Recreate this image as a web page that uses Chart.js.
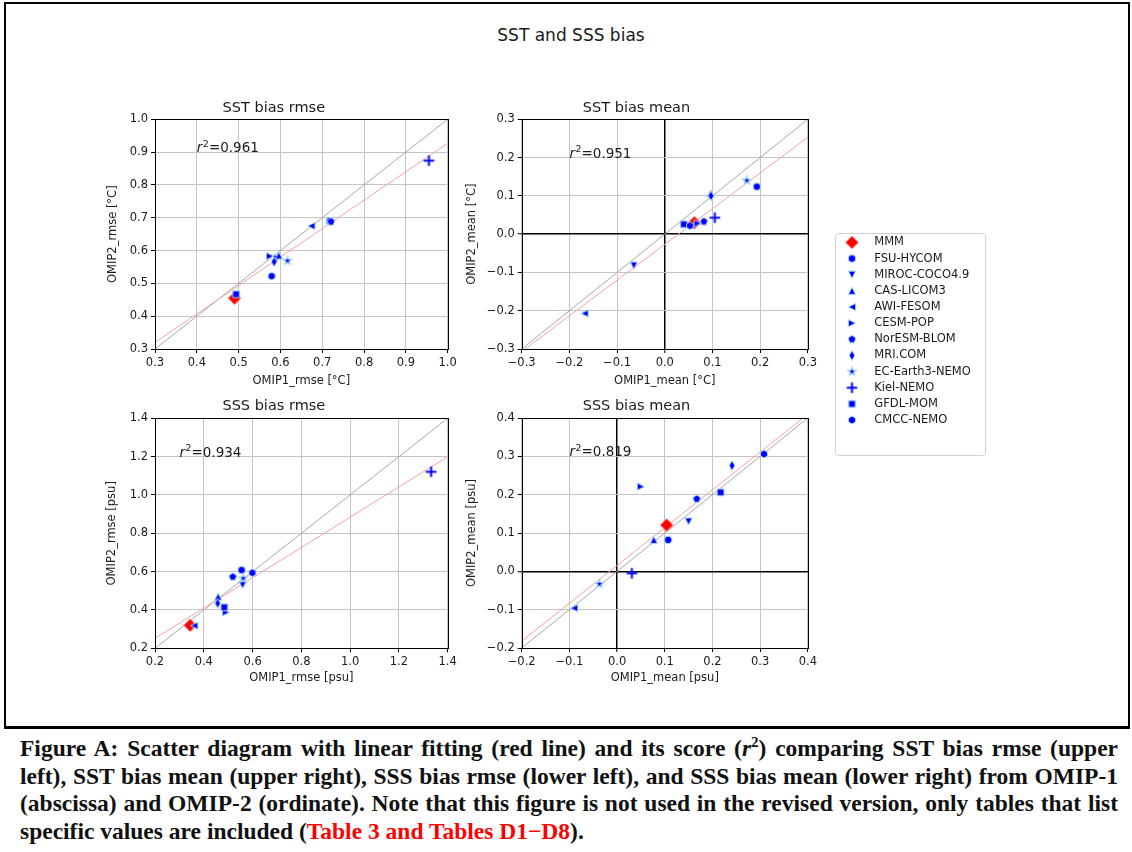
<!DOCTYPE html>
<html>
<head>
<meta charset="utf-8">
<script src="https://cdn.jsdelivr.net/npm/chart.js@4.4.1/dist/chart.umd.min.js"></script>
<style>
  body { margin: 0; background: #fff; width: 1132px; height: 852px; position: relative; overflow: hidden; font-family: "DejaVu Sans", sans-serif; }
  #frame { position: absolute; left: 4px; top: 2px; width: 1126px; height: 727px; box-sizing: border-box; border: 2px solid #000; border-bottom-width: 3px; }
  #suptitle { position: absolute; left: 0; width: 1142px; top: 25px; text-align: center; font-size: 17px; color: #1a1a1a; }
  canvas { position: absolute; }
  #caption { position: absolute; left: 20px; top: 735px; width: 1098px; font-family: "Liberation Serif", "Times New Roman", serif; font-weight: bold; font-size: 23.5px; line-height: 27.5px; color: #111; }
  #caption div { text-align: justify; text-align-last: justify; white-space: nowrap; }
  #caption div.last { text-align-last: left; }
  #caption sup { font-size: 15px; line-height: 0; }
  #caption .ref { color: #f00; }
</style>
</head>
<body>
<div id="frame"></div>
<div id="suptitle">SST and SSS bias</div>
<canvas id="sstRmse" width="360" height="300" style="left:100px;top:95px"></canvas>
<canvas id="sstMean" width="360" height="300" style="left:460px;top:95px"></canvas>
<canvas id="sssRmse" width="360" height="300" style="left:100px;top:395px"></canvas>
<canvas id="sssMean" width="360" height="300" style="left:460px;top:395px"></canvas>
<canvas id="legendBox" width="170" height="228" style="left:824px;top:232px"></canvas>
<div id="caption">
  <div>Figure A: Scatter diagram with linear fitting (red line) and its score (<i>r</i><sup>2</sup>) comparing SST bias rmse (upper</div>
  <div>left), SST bias mean (upper right), SSS bias rmse (lower left), and SSS bias mean (lower right) from OMIP-1</div>
  <div>(abscissa) and OMIP-2 (ordinate). Note that this figure is not used in the revised version, only tables that list</div>
  <div class="last">specific values are included (<span class="ref">Table 3 and Tables D1&minus;D8</span>).</div>
</div>
<script>
const models = ['MMM', 'FSU-HYCOM', 'MIROC-COCO4.9', 'CAS-LICOM3', 'AWI-FESOM', 'CESM-POP',
  'NorESM-BLOM', 'MRI.COM', 'EC-Earth3-NEMO', 'Kiel-NEMO', 'GFDL-MOM', 'CMCC-NEMO'];

// SST bias rmse [°C]
const sstRmseOmip1 = [0.490, 0.718, 0.590, 0.596, 0.674, 0.575, 0.721, 0.585, 0.617, 0.955, 0.494, 0.579];
const sstRmseOmip2 = [0.455, 0.690, 0.575, 0.585, 0.675, 0.583, 0.688, 0.566, 0.569, 0.874, 0.467, 0.522];
// SST bias mean [°C]
const sstMeanOmip1 = [0.062, 0.193, -0.065, 0.096, -0.168, 0.069, 0.082, 0.097, 0.172, 0.105, 0.040, 0.053];
const sstMeanOmip2 = [0.030, 0.124, -0.082, 0.106, -0.207, 0.028, 0.033, 0.100, 0.140, 0.043, 0.026, 0.022];
// SSS bias rmse [psu]
const sssRmseOmip1 = [0.344, 0.555, 0.559, 0.459, 0.361, 0.491, 0.519, 0.457, 0.562, 1.332, 0.484, 0.599];
const sssRmseOmip2 = [0.320, 0.608, 0.530, 0.469, 0.318, 0.388, 0.573, 0.435, 0.565, 1.121, 0.414, 0.594];
// SSS bias mean [psu]
const sssMeanOmip1 = [0.104, 0.107, 0.150, 0.077, -0.090, 0.050, 0.167, 0.241, -0.037, 0.031, 0.217, 0.308];
const sssMeanOmip2 = [0.121, 0.082, 0.130, 0.082, -0.096, 0.221, 0.189, 0.276, -0.033, -0.005, 0.206, 0.306];

// linear fit lines (end points) and 1:1 lines
const sstRmseFit = [[0.3, 0.320], [1.0, 0.927]];
const sstMeanFit = [[-0.293, -0.3], [0.3, 0.253]];
const sssRmseFit = [[0.2, 0.252], [1.4, 1.200]];
const sssMeanFit = [[-0.2, -0.182], [0.39, 0.4]];
const r2Labels = ['0.961', '0.951', '0.934', '0.819'];

const sstRmseTicks = [0.3, 0.4, 0.5, 0.6, 0.7, 0.8, 0.9, 1.0];
const sstMeanTicks = [-0.3, -0.2, -0.1, 0.0, 0.1, 0.2, 0.3];
const sssRmseTicks = [0.2, 0.4, 0.6, 0.8, 1.0, 1.2, 1.4];
const sssMeanTicks = [-0.2, -0.1, 0.0, 0.1, 0.2, 0.3, 0.4];

const BLUE = '#0000ff', EDGE = '#a3d5f2', TXT = '#1a1a1a';

function marker(shape, r, fill, edge, lw) {
  const s = Math.ceil(2 * r + 2 * lw + 2);
  const c = document.createElement('canvas');
  c.width = s; c.height = s;
  const g = c.getContext('2d');
  g.translate(s / 2, s / 2);
  g.beginPath();
  const poly = pts => { pts.forEach((p, i) => i ? g.lineTo(p[0], p[1]) : g.moveTo(p[0], p[1])); g.closePath(); };
  const ngon = (n, rr, rot) => {
    const pts = [];
    for (let i = 0; i < n; i++) { const a = rot + i * 2 * Math.PI / n; pts.push([rr * Math.sin(a), -rr * Math.cos(a)]); }
    poly(pts);
  };
  if (shape === 'plus') {
    g.strokeStyle = fill; g.lineWidth = lw;
    g.moveTo(-r, 0); g.lineTo(r, 0); g.moveTo(0, -r); g.lineTo(0, r); g.stroke();
    return c;
  }
  if (shape === 'circle') g.arc(0, 0, r, 0, 2 * Math.PI);
  if (shape === 'diamond') poly([[0, -r], [r, 0], [0, r], [-r, 0]]);
  if (shape === 'thin') poly([[0, -r], [0.6 * r, 0], [0, r], [-0.6 * r, 0]]);
  if (shape === 'square') poly([[-r, -r], [r, -r], [r, r], [-r, r]]);
  if (shape === 'up') poly([[0, -r], [r, r], [-r, r]]);
  if (shape === 'down') poly([[0, r], [r, -r], [-r, -r]]);
  if (shape === 'left') poly([[-r, 0], [r, -r], [r, r]]);
  if (shape === 'right') poly([[r, 0], [-r, -r], [-r, r]]);
  if (shape === 'pent') ngon(5, r, 0);
  if (shape === 'hex') ngon(6, r, 0);
  if (shape === 'star') {
    const pts = [];
    for (let i = 0; i < 10; i++) { const a = i * Math.PI / 5, rr = i % 2 ? r * 0.4 : r; pts.push([rr * Math.sin(a), -rr * Math.cos(a)]); }
    poly(pts);
  }
  g.fillStyle = fill; g.fill();
  g.strokeStyle = edge; g.lineWidth = lw; g.stroke();
  return c;
}

const markers = [
  marker('diamond', 6.2, '#ff0000', '#ff5050', 1),
  marker('circle', 3.7, BLUE, EDGE, 1),
  marker('down', 3.6, BLUE, EDGE, 1),
  marker('up', 3.6, BLUE, EDGE, 1),
  marker('left', 3.6, BLUE, EDGE, 1),
  marker('right', 3.6, BLUE, EDGE, 1),
  marker('pent', 4.0, BLUE, EDGE, 1),
  marker('thin', 4.8, BLUE, EDGE, 1),
  marker('star', 4.6, BLUE, EDGE, 1.2),
  marker('plus', 5.3, BLUE, EDGE, 2),
  marker('square', 3.4, BLUE, EDGE, 1),
  marker('hex', 3.9, BLUE, EDGE, 1)
];

const fmt = v => (Math.abs(v) < 1e-9 ? 0 : v).toFixed(1).replace('-', '\u2212');

const spines = {
  id: 'spines',
  afterDraw(chart) {
    const {ctx, chartArea: a} = chart;
    ctx.save();
    ctx.strokeStyle = '#000';
    ctx.lineWidth = 1;
    ctx.strokeRect(Math.round(a.left) + 0.5, Math.round(a.top) + 0.5, Math.round(a.right - a.left), Math.round(a.bottom - a.top));
    ctx.restore();
  }
};

const r2Note = {
  id: 'r2Note',
  afterDatasetsDraw(chart, args, opts) {
    const {ctx, scales: {x, y}} = chart;
    const px = x.getPixelForValue(opts.x), py = y.getPixelForValue(opts.y);
    ctx.save();
    ctx.fillStyle = TXT;
    ctx.textBaseline = 'alphabetic';
    ctx.font = 'italic 13.5px "DejaVu Sans"';
    ctx.fillText('r', px, py);
    let w = ctx.measureText('r').width + 0.5;
    ctx.font = '9.5px "DejaVu Sans"';
    ctx.fillText('2', px + w, py - 5.5);
    w += ctx.measureText('2').width;
    ctx.font = '13.5px "DejaVu Sans"';
    ctx.fillText('=' + opts.text, px + w, py);
    ctx.restore();
  }
};

function makePanel(id, p) {
  const lh = 11.5 * 1.2;
  const pts = models.map((m, i) => ({
    label: m,
    data: [{x: p.xs[i], y: p.ys[i]}],
    pointStyle: markers[i],
    order: models.length - i
  }));
  const t0 = p.ticks[0], t1 = p.ticks[p.ticks.length - 1];
  const lines = [
    {label: 'fit', data: p.fit.map(q => ({x: q[0], y: q[1]})), showLine: true, pointRadius: 0,
      borderColor: '#f4a4a4', borderWidth: 1, order: 30},
    {label: '1:1', data: [{x: t0, y: t0}, {x: t1, y: t1}], showLine: true, pointRadius: 0,
      borderColor: '#a8a8a8', borderWidth: 1, order: 31}
  ];
  const grid = {
    color: c => (p.zero && c.tick && Math.abs(c.tick.value) < 1e-9) ? '#000' : '#c4c4c4',
    lineWidth: c => (p.zero && c.tick && Math.abs(c.tick.value) < 1e-9) ? 1.5 : 1,
    tickColor: '#000', tickWidth: 1, tickLength: 4, drawTicks: true
  };
  const tickOpts = {
    autoSkip: false, maxRotation: 0, padding: 3, color: TXT,
    font: {size: 11.5, family: 'DejaVu Sans'}, callback: v => fmt(v)
  };
  const L = p.box;
  new Chart(document.getElementById(id), {
    type: 'scatter',
    data: {datasets: pts.concat(lines)},
    options: {
      responsive: false, animation: false, events: [],
      layout: {padding: {left: 0, top: 0, bottom: 0, right: L.w - L.r}},
      scales: {
        x: {
          type: 'linear', min: t0, max: t1,
          afterBuildTicks: s => { s.ticks = p.ticks.map(v => ({value: v})); },
          afterFit: s => { s.height = L.h - L.b; },
          grid: grid, border: {display: false}, ticks: tickOpts,
          title: {display: true, text: p.xLabel, color: TXT, font: {size: 11.5, family: 'DejaVu Sans'},
            padding: {top: 0, bottom: L.h - L.xTitleY - lh / 2}}
        },
        y: {
          type: 'linear', min: t0, max: t1,
          afterBuildTicks: s => { s.ticks = p.ticks.map(v => ({value: v})); },
          afterFit: s => { s.width = L.l; },
          grid: grid, border: {display: false}, ticks: tickOpts,
          title: {display: true, text: p.yLabel, color: TXT, font: {size: 11.5, family: 'DejaVu Sans'},
            padding: {top: L.yTitleX - lh / 2, bottom: 0}}
        }
      },
      plugins: {
        legend: {display: false},
        tooltip: {enabled: false},
        title: {display: true, text: p.title, color: TXT, font: {size: 14.5, family: 'DejaVu Sans', weight: 'normal'},
          padding: {top: L.titleY - 8.7, bottom: L.t - (L.titleY - 8.7) - 17.4}},
        r2Note: {text: p.r2, x: p.r2At[0], y: p.r2At[1]}
      }
    },
    plugins: [spines, r2Note]
  });
}

makePanel('sstRmse', {
  title: 'SST bias rmse', xLabel: 'OMIP1_rmse [\u00b0C]', yLabel: 'OMIP2_rmse [\u00b0C]',
  xs: sstRmseOmip1, ys: sstRmseOmip2, fit: sstRmseFit, ticks: sstRmseTicks, zero: false,
  r2: r2Labels[0], r2At: [0.4, 0.9],
  box: {w: 360, h: 300, l: 55, t: 24.3, r: 347.7, b: 254, titleY: 13.3, yTitleX: 13.3, xTitleY: 286}
});
makePanel('sstMean', {
  title: 'SST bias mean', xLabel: 'OMIP1_mean [\u00b0C]', yLabel: 'OMIP2_mean [\u00b0C]',
  xs: sstMeanOmip1, ys: sstMeanOmip2, fit: sstMeanFit, ticks: sstMeanTicks, zero: true,
  r2: r2Labels[1], r2At: [-0.2, 0.2],
  box: {w: 360, h: 300, l: 61.7, t: 24.3, r: 353, b: 254, titleY: 13, yTitleX: 11.7, xTitleY: 286}
});
makePanel('sssRmse', {
  title: 'SSS bias rmse', xLabel: 'OMIP1_rmse [psu]', yLabel: 'OMIP2_rmse [psu]',
  xs: sssRmseOmip1, ys: sssRmseOmip2, fit: sssRmseFit, ticks: sssRmseTicks, zero: false,
  r2: r2Labels[2], r2At: [0.3, 1.2],
  box: {w: 360, h: 300, l: 55, t: 23.3, r: 347.7, b: 253.3, titleY: 11.7, yTitleX: 12.3, xTitleY: 283.3}
});
makePanel('sssMean', {
  title: 'SSS bias mean', xLabel: 'OMIP1_mean [psu]', yLabel: 'OMIP2_mean [psu]',
  xs: sssMeanOmip1, ys: sssMeanOmip2, fit: sssMeanFit, ticks: sssMeanTicks, zero: true,
  r2: r2Labels[3], r2At: [-0.1, 0.3],
  box: {w: 360, h: 300, l: 61.7, t: 23, r: 353, b: 253, titleY: 11.7, yTitleX: 11.7, xTitleY: 283.3}
});

// legend in its own small chart
const legendFrame = {
  id: 'legendFrame',
  beforeDraw(chart) {
    const ctx = chart.ctx;
    ctx.save();
    ctx.strokeStyle = '#d0d0d0';
    ctx.lineWidth = 1;
    ctx.fillStyle = '#fff';
    ctx.beginPath();
    ctx.roundRect(11.5, 1.5, 150, 222, 3);
    ctx.fill();
    ctx.stroke();
    ctx.restore();
  }
};

new Chart(document.getElementById('legendBox'), {
  type: 'scatter',
  data: {datasets: models.map((m, i) => ({label: m, data: [], pointStyle: markers[i]}))},
  options: {
    responsive: false, animation: false, events: [],
    layout: {padding: {left: 6.85, top: 0}},
    scales: {x: {display: false}, y: {display: false}},
    plugins: {
      tooltip: {enabled: false},
      legend: {
        position: 'left', align: 'start', maxWidth: 200,
        labels: {usePointStyle: true, pointStyleWidth: 33, padding: 4.65, color: TXT,
          font: {size: 11.5, family: 'DejaVu Sans'}}
      }
    }
  },
  plugins: [legendFrame]
});
</script>
</body>
</html>
